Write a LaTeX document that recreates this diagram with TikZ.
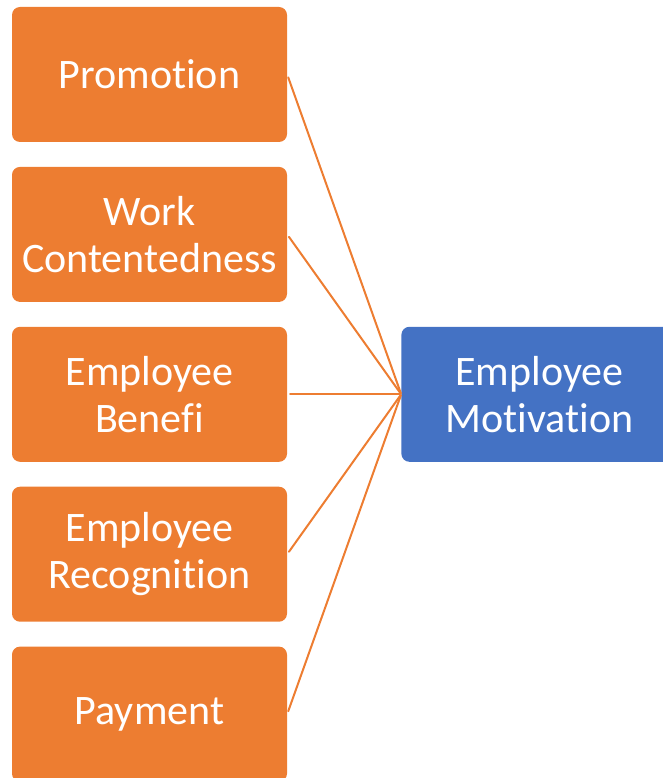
\documentclass[tikz,border=0pt]{standalone}
\usepackage{fontspec}
\setmainfont{Carlito}[Ligatures=NoCommon]
\usepackage{xcolor}
\usepackage{tikz}
\usetikzlibrary{positioning}

\definecolor{factorfill}{HTML}{ED7D31}
\definecolor{goalfill}{HTML}{4472C4}

\begin{document}
\begin{tikzpicture}[x=1pt, y=-1pt, line cap=round, line join=round,
		font=\fontsize{42}{47}\selectfont, node distance=24.5pt and 114pt]
	% ---- khung hình (cắt đúng kích thước) ----
	\path[use as bounding box, clip] (0,0) rectangle (663,778);
	
	% ---- các kiểu hộp ----
	\tikzset{factor/.style={rectangle, rounded corners=8pt, fill=factorfill,
			minimum width=275pt, minimum height=135pt, inner sep=0pt,
			text=white, align=center},
		goal/.style={factor, fill=goalfill, minimum width=276pt},
		link/.style={draw=factorfill, line width=2pt, shorten <=3pt, shorten >=1pt}}
	
	% ---- cột bên trái (5 yếu tố) ----
	\node[factor] (promo) at (149.5,74.5) {Promotion};
	\node[factor, below=of promo] (work) {Work\\Contentedness};
	\node[factor, below=of work] (benefit) {Employee\\Benefi};
	\node[factor, below=of benefit] (recog) {Employee\\Recognition};
	\node[factor, below=of recog] (pay) {Payment};
	
	% ---- hộp kết quả bên phải ----
	\node[goal, right=of benefit] (motiv) {Employee\\Motivation};
	
	% ---- các đường nối ----
	\foreach \src in {promo, work, benefit, recog, pay}
		\draw[link] (\src.east) -- (motiv.west);
\end{tikzpicture}
\end{document}
